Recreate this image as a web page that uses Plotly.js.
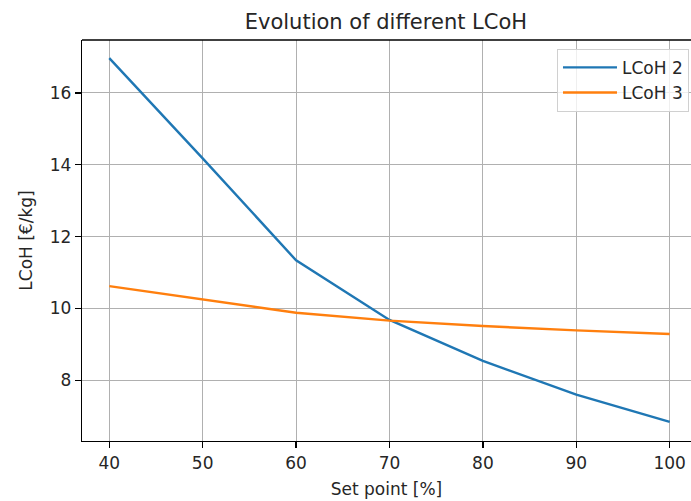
<!DOCTYPE html>
<html>
<head>
<meta charset="utf-8">
<script src="https://cdn.plot.ly/plotly-3.0.1.min.js"></script>
<style>html,body{margin:0;padding:0;background:#fff;}#chart{width:691px;height:501px;}</style>
</head>
<body>
<div id="chart"></div>
<script>
const setPoints = [40, 50, 60, 70, 80, 90, 100];
const lcoh2 = [16.97, 14.18, 11.34, 9.68, 8.54, 7.60, 6.84];
const lcoh3 = [10.62, 10.24, 9.88, 9.66, 9.51, 9.39, 9.29];
const seriesNames = ["LCoH 2", "LCoH 3"];
const xTicks = [40, 50, 60, 70, 80, 90, 100];
const yTicks = [8, 10, 12, 14, 16];

const font = "DejaVu Sans, sans-serif";
const txt = "#262626";
const traces = [
  {x: setPoints, y: lcoh2, name: seriesNames[0], legendgroup: "a", mode: "lines", line: {color: "#1f77b4", width: 2.4}},
  {x: setPoints, y: lcoh3, name: seriesNames[1], legendgroup: "b", mode: "lines", line: {color: "#ff7f0e", width: 2.4}}
];
const axisCommon = {
  showgrid: true, gridcolor: "#b0b0b0", gridwidth: 1,
  showline: true, linecolor: "#000", linewidth: 1.3,
  ticks: "outside", ticklen: 6, tickwidth: 1.3, tickcolor: "#000",
  tickfont: {family: font, size: 17, color: txt},
  zeroline: false
};
const layout = {
  width: 691, height: 501,
  paper_bgcolor: "#fff", plot_bgcolor: "#fff",
  margin: {l: 82, r: 0, t: 40, b: 60},
  title: {text: "Evolution of different LCoH", font: {family: font, size: 21, color: txt}, x: 0.5585, xref: "container", xanchor: "center", y: 0.956, yref: "container", yanchor: "middle"},
  xaxis: Object.assign({}, axisCommon, {
    range: [37.08, 102.28], tickvals: xTicks, ticktext: xTicks.map(String),
    title: {text: "Set point [%]", font: {family: font, size: 17, color: txt}, standoff: 11}
  }),
  yaxis: Object.assign({}, axisCommon, {
    range: [6.309, 17.474], tickvals: yTicks, ticktext: yTicks.map(String),
    title: {text: "LCoH [€/kg]", font: {family: font, size: 17, color: txt}, standoff: 12}
  }),
  shapes: [{type: "line", xref: "paper", yref: "paper", x0: 0, x1: 1, y0: 1, y1: 1, line: {color: "#000", width: 1.3}}],
  legend: {
    x: 0.9967, y: 0.978, xanchor: "right", yanchor: "top",
    bgcolor: "rgba(255,255,255,0.8)", bordercolor: "#d0d0d0", borderwidth: 1,
    tracegroupgap: 0, itemwidth: 54,
    font: {family: font, size: 17, color: txt}
  },
  showlegend: true
};
Plotly.newPlot("chart", traces, layout, {displayModeBar: false, staticPlot: true});
</script>
</body>
</html>
